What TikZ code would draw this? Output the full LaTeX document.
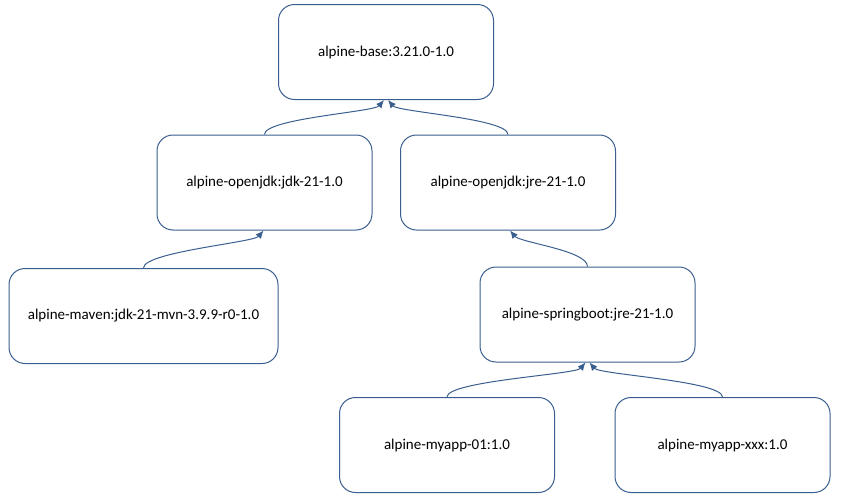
\documentclass[tikz,border=0pt]{standalone}
\usepackage{fontspec}
\setmainfont{Carlito}
\usetikzlibrary{calc,arrows.meta}
\definecolor{edge}{HTML}{3A5F8F}
\begin{document}
\begin{tikzpicture}[x=1pt,y=1pt,
  box/.style={draw=edge, line width=1pt, rounded corners=16pt, minimum width=215pt,
    minimum height=95pt, inner sep=0pt, font=\fontsize{15}{18}\selectfont, text=black, fill=white},
  link/.style={draw=edge, line width=1pt, -{Latex[length=8pt,width=7pt]}}]
\useasboundingbox (0,0) rectangle (844,-498);
\node[box] (base) at (386,-52) {alpine-base:3.21.0-1.0};
\node[box] (jdk) at (264.5,-182.5) {alpine-openjdk:jdk-21-1.0};
\node[box] (jre) at (508,-182.5) {alpine-openjdk:jre-21-1.0};
\node[box, minimum width=269pt] (mvn) at (143.5,-316) {alpine-maven:jdk-21-mvn-3.9.9-r0-1.0};
\node[box] (spring) at (587.5,-314.5) {alpine-springboot:jre-21-1.0};
\node[box] (app1) at (447,-445) {alpine-myapp-01:1.0};
\node[box] (appx) at (722.5,-445) {alpine-myapp-xxx:1.0};
\draw[link] (jdk.north) .. controls +(0,16) and +(-10,-12) .. ($(base.south)+(-2,0)$);
\draw[link] (jre.north) .. controls +(0,16) and +(10,-12) .. ($(base.south)+(2,0)$);
\draw[link] (mvn.north) .. controls +(0,16) and +(-10,-12) .. ($(jdk.south)+(-1,0)$);
\draw[link] (spring.north) .. controls +(0,16) and +(10,-12) .. ($(jre.south)+(2,0)$);
\draw[link] (app1.north) .. controls +(0,16) and +(-10,-12) .. ($(spring.south)+(-2,0)$);
\draw[link] (appx.north) .. controls +(0,16) and +(10,-12) .. ($(spring.south)+(2,0)$);
\end{tikzpicture}
\end{document}
